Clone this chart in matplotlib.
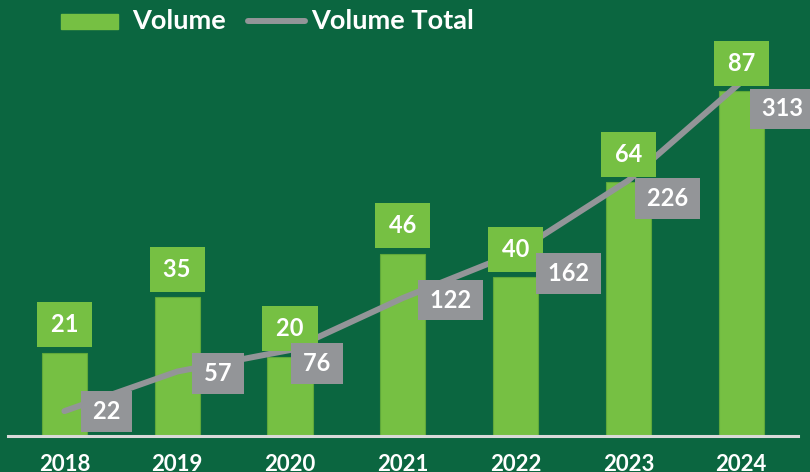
import matplotlib.pyplot as plt
from matplotlib.patches import Rectangle
from matplotlib.lines import Line2D

years = ["2018", "2019", "2020", "2021", "2022", "2023", "2024"]
volume = [21, 35, 20, 46, 40, 64, 87]
volume_total = [22, 57, 76, 122, 162, 226, 313]

# label offsets for the gray total labels (pixels, hand placed like the original)
total_offsets = [(42, 0), (41, -2), (27, -13), (48, -2), (53, -21), (39, -18), (41, -27)]

bg = "#0b6640"
bar_green = "#76c043"
gray = "#939598"
plt.rcParams['font.family'] = ['Lato', 'DejaVu Sans']

fig = plt.figure(figsize=(8.1, 4.72), dpi=100, facecolor=bg)
ax = fig.add_axes([8 / 810, 36 / 472, 802 / 810, 436 / 472])
ax.set_facecolor(bg)
x = list(range(len(years)))
ax.bar(x, volume, width=0.4, color=bar_green, edgecolor="#5fa83a", linewidth=0.8, zorder=2)
ax.set_xlim(-0.5, -0.5 + 802 / 112.8)
ax.set_ylim(0, 110)
ax.set_yticks([])
ax.set_xticks(x)
ax.set_xticklabels(years, fontsize=16, fontweight="bold", color="white")
ax.tick_params(axis="x", length=0, pad=13)
for s in ["top", "right", "left"]:
    ax.spines[s].set_visible(False)
ax.spines["bottom"].set_color("#d9d9d9")
ax.spines["bottom"].set_linewidth(2.2)
ax.spines["bottom"].set_bounds(-0.5, 6.5)

ax2 = ax.twinx()
ax2.patch.set_visible(False)
ax2.set_ylim(0, 436 / 1.131)
ax2.set_yticks([])
for s in ax2.spines.values():
    s.set_visible(False)
ax2.plot(x, volume_total, color=gray, linewidth=4.3, solid_capstyle="round", zorder=3)

sp = "\u2009"

# green value labels above the bars
for xi, v in zip(x, volume):
    ax2.annotate(f"{sp}{v}{sp}", xy=(xi, v), xycoords=ax.transData,
                 xytext=(0, 28), textcoords="offset pixels",
                 ha="center", va="center", fontsize=17, fontweight="bold", color="white",
                 bbox=dict(boxstyle="square,pad=0.46", fc=bar_green, ec="none"), zorder=5)

# gray total labels
for xi, v, (dx, dy) in zip(x, volume_total, total_offsets):
    ax2.annotate(f"{sp}{v}{sp}", xy=(xi, v), xytext=(dx, dy), textcoords="offset pixels",
                 ha="center", va="center", fontsize=17, fontweight="bold", color="white",
                 bbox=dict(boxstyle="square,pad=0.38", fc=gray, ec="none"), zorder=6,
                 annotation_clip=False)

# legend drawn by hand
fig.patches.append(Rectangle((61 / 810, 1 - 29 / 472), 57 / 810, 15 / 472,
                             transform=fig.transFigure, color=bar_green))
fig.text(132 / 810, 1 - 21 / 472, "Volume", fontsize=19.5, fontweight="bold",
         color="white", va="center", ha="left")
fig.lines.append(Line2D([248 / 810, 305 / 810], [1 - 21 / 472, 1 - 21 / 472],
                        transform=fig.transFigure, color=gray, linewidth=4.3,
                        solid_capstyle="round"))
fig.text(311 / 810, 1 - 21 / 472, "Volume Total", fontsize=19.5, fontweight="bold",
         color="white", va="center", ha="left")

fig.savefig("out.png", dpi=100, facecolor=bg)
